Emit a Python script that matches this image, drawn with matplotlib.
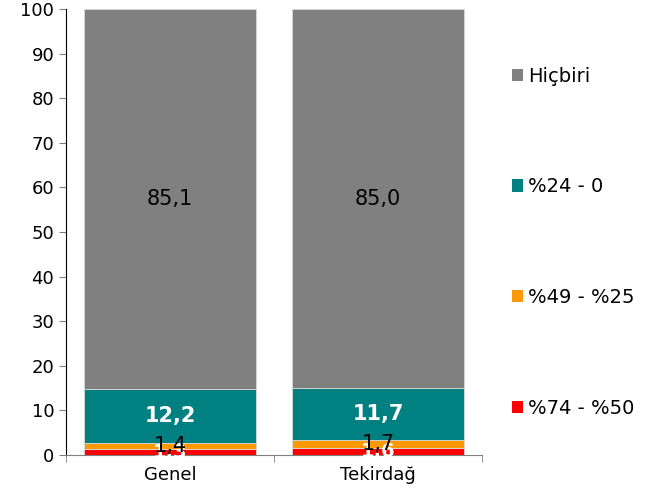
import numpy as np
import matplotlib.pyplot as plt
from matplotlib.patches import Patch

categories = ['Genel', 'Tekirdağ']
series_names = ['%74 - %50', '%49 - %25', '%24 - 0', 'Hiçbiri']
red_vals = [1.3, 1.6]
orange_vals = [1.4, 1.7]
teal_vals = [12.2, 11.7]
gray_vals = [85.1, 85.0]
colors = ['#FF0000', '#FF9900', '#008080', '#808080']

series = [red_vals, orange_vals, teal_vals, gray_vals]
label_colors = ['white', 'black', 'white', 'black']
label_weights = ['bold', 'normal', 'bold', 'normal']

plt.rcParams['font.family'] = ['DejaVu Sans']

fig = plt.figure(figsize=(6.47, 4.99), dpi=100)
ax = fig.add_axes([0.102, 0.088, 0.643, 0.894])

x = np.arange(len(categories))
bottom = np.zeros(len(categories))
for i, (vals, col, lc, lw) in enumerate(zip(series, colors, label_colors, label_weights)):
    vals = np.array(vals)
    ax.bar(x, vals, 0.83, bottom=bottom, color=col, edgecolor='#D9D9D9', linewidth=0.6)
    for xi, b, v in zip(x, bottom, vals):
        ax.text(xi, b + v / 2, f'{v:.1f}'.replace('.', ','), ha='center', va='center',
                color=lc, fontweight=lw, fontsize=15 if i != 0 else 14, zorder=3 + i)
    bottom += vals

ax.set_xlim(-0.5, 1.5)
ax.set_ylim(0, 100)
ax.set_yticks(range(0, 101, 10))
ax.set_xticks(x)
ax.set_xticklabels(categories, fontsize=13)
ax.tick_params(axis='y', labelsize=13, color='#808080', length=5, direction='out')
ax.tick_params(axis='x', length=0, pad=8)
# minor ticks between categories on x axis
ax.set_xticks([-0.5, 0.5, 1.5], minor=True)
ax.tick_params(axis='x', which='minor', length=5, color='#808080')
for s in ['top', 'right']:
    ax.spines[s].set_visible(False)
ax.spines['left'].set_color('black')
ax.spines['bottom'].set_color('#808080')

handles = [Patch(facecolor=c, edgecolor='none') for c in colors][::-1]
fig.legend(handles, series_names[::-1], loc='upper left', bbox_to_anchor=(0.776, 0.886),
           frameon=False, fontsize=14, handlelength=0.6, handleheight=0.6,
           handletextpad=0.25, labelspacing=4.72, borderpad=0)

fig.savefig('out.png', dpi=100)
